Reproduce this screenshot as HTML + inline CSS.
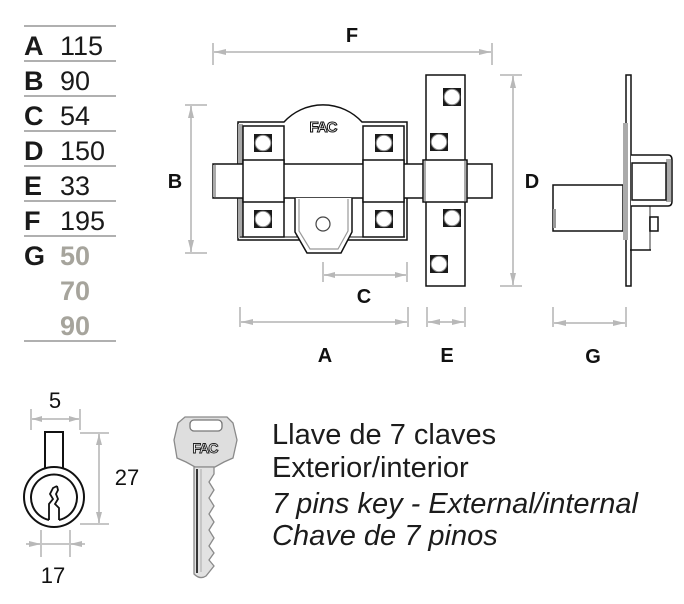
<!DOCTYPE html>
<html><head><meta charset="utf-8"><style>
html,body{margin:0;padding:0;background:#fff;}
svg{display:block;}
</style></head><body>
<svg width="684" height="604" viewBox="0 0 684 604" xmlns="http://www.w3.org/2000/svg">
<rect width="684" height="604" fill="#fff"/>
<!-- table -->
<g stroke="#808080" stroke-width="1.3">
<line x1="24" y1="26" x2="116" y2="26"/><line x1="24" y1="61" x2="116" y2="61"/>
<line x1="24" y1="96" x2="116" y2="96"/><line x1="24" y1="131" x2="116" y2="131"/>
<line x1="24" y1="166" x2="116" y2="166"/><line x1="24" y1="201" x2="116" y2="201"/>
<line x1="24" y1="236" x2="116" y2="236"/><line x1="24" y1="341" x2="116" y2="341"/>
</g>
<g font-family="Liberation Sans, Arial, sans-serif" font-size="27" fill="#1a1a1a">
<text x="24" y="55" font-weight="bold">A</text><text x="60" y="55">115</text>
<text x="24" y="90" font-weight="bold">B</text><text x="60" y="90">90</text>
<text x="24" y="125" font-weight="bold">C</text><text x="60" y="125">54</text>
<text x="24" y="160" font-weight="bold">D</text><text x="60" y="160">150</text>
<text x="24" y="195" font-weight="bold">E</text><text x="60" y="195">33</text>
<text x="24" y="230" font-weight="bold">F</text><text x="60" y="230">195</text>
<text x="24" y="265" font-weight="bold">G</text>
<text x="60" y="265" font-weight="bold" fill="#a6a49c">50</text>
<text x="60" y="300" font-weight="bold" fill="#a6a49c">70</text>
<text x="60" y="335" font-weight="bold" fill="#a6a49c">90</text>
</g>

<!-- dimension lines -->
<g stroke="#c6c6c6" stroke-width="2" fill="none">
<line x1="213" y1="52" x2="492" y2="52"/><line x1="213" y1="43" x2="213" y2="65"/><line x1="492" y1="43" x2="492" y2="65"/>
<line x1="191" y1="105" x2="191" y2="253"/><line x1="185" y1="105" x2="207" y2="105"/><line x1="185" y1="253" x2="207" y2="253"/>
<line x1="513" y1="75" x2="513" y2="286"/><line x1="500" y1="75" x2="522" y2="75"/><line x1="500" y1="286" x2="522" y2="286"/>
<line x1="323" y1="275" x2="407" y2="275"/><line x1="323" y1="262" x2="323" y2="282"/><line x1="407" y1="262" x2="407" y2="282"/>
<line x1="240" y1="322" x2="408" y2="322"/><line x1="240" y1="307" x2="240" y2="327"/><line x1="408" y1="307" x2="408" y2="327"/>
<line x1="427" y1="322" x2="465" y2="322"/><line x1="427" y1="307" x2="427" y2="327"/><line x1="465" y1="307" x2="465" y2="327"/>
<line x1="553" y1="323" x2="626" y2="323"/><line x1="553" y1="307" x2="553" y2="327"/><line x1="626" y1="307" x2="626" y2="327"/>
<line x1="31" y1="419" x2="80" y2="419"/><line x1="31" y1="409" x2="31" y2="430"/><line x1="80" y1="409" x2="80" y2="430"/>
<line x1="99" y1="433" x2="99" y2="524"/><line x1="80" y1="433" x2="109" y2="433"/><line x1="80" y1="524" x2="109" y2="524"/>
<line x1="26" y1="544" x2="85" y2="544"/><line x1="41" y1="530" x2="41" y2="557"/><line x1="70" y1="530" x2="70" y2="557"/>
</g>
<g fill="#b8b8b8">
<polygon points="214,52 226,49 226,55"/><polygon points="491,52 479,49 479,55"/>
<polygon points="191,106 188,118 194,118"/><polygon points="191,252 188,240 194,240"/>
<polygon points="513,76 510,88 516,88"/><polygon points="513,285 510,273 516,273"/>
<polygon points="324,275 335,272 335,278"/><polygon points="406,275 395,272 395,278"/>
<polygon points="241,322 253,319 253,325"/><polygon points="407,322 395,319 395,325"/>
<polygon points="428,322 440,319 440,325"/><polygon points="464,322 452,319 452,325"/>
<polygon points="554,323 566,320 566,326"/><polygon points="625,323 613,320 613,326"/>
<polygon points="32,419 42,416 42,422"/><polygon points="79,419 69,416 69,422"/>
<polygon points="99,434 96,445 102,445"/><polygon points="99,523 96,512 102,512"/>
<polygon points="41,544 29,541 29,547"/><polygon points="70,544 82,541 82,547"/>
</g>

<!-- dim labels -->
<g font-family="Liberation Sans, Arial, sans-serif" font-size="20" font-weight="bold" fill="#111" text-anchor="middle">
<text x="352" y="42">F</text>
<text x="175" y="188">B</text>
<text x="532" y="188">D</text>
<text x="364" y="303">C</text>
<text x="325" y="362">A</text>
<text x="447" y="362">E</text>
<text x="593" y="363">G</text>
</g>
<g font-family="Liberation Sans, Arial, sans-serif" font-size="22" fill="#111" text-anchor="middle">
<text x="55" y="408">5</text>
<text x="127" y="485">27</text>
<text x="53" y="583">17</text>
</g>

<!-- lock body -->
<g stroke="#111" stroke-width="1.5">
<rect x="237" y="123" width="6" height="115" fill="#a8a8a8" stroke="none"/>
<path d="M238,240 L238,122 L284,122 A53,53 0 0 1 362,122 L407,122 L407,240 Z" fill="#fff"/>
<rect x="238" y="124" width="5" height="114" fill="#a8a8a8" stroke="none"/>
<line x1="240" y1="237" x2="405" y2="237" stroke-width="1"/>
<rect x="243" y="126" width="41" height="111" fill="#fff"/>
<rect x="363" y="126" width="41" height="111" fill="#fff"/>
<!-- strike plate -->
<rect x="426" y="75" width="39" height="211" fill="#fff"/>
<!-- bolt -->
<rect x="213" y="164" width="279" height="34" fill="#fff"/>
<rect x="213" y="165" width="3" height="32" fill="#aaa" stroke="none"/>
<rect x="243" y="160" width="41" height="42" fill="#fff"/>
<rect x="363" y="160" width="41" height="42" fill="#fff"/>
<rect x="423" y="160" width="44" height="42" fill="#fff"/>
<line x1="425" y1="161" x2="425" y2="201" stroke="#aaa" stroke-width="2"/>
<line x1="465" y1="161" x2="465" y2="201" stroke="#aaa" stroke-width="2"/>
<!-- lower tab -->
<path d="M295,198 L295,232 L307,253 L341,253 L352,232 L352,198" fill="#fff"/>
<path d="M299,199 L299,231 L310,249 L338,249 L348,231 L348,199" fill="none" stroke="#999" stroke-width="1.2"/>
<circle cx="323" cy="224" r="7" fill="#fff" stroke="#444" stroke-width="1.2"/>
</g>
<text x="323" y="132" font-family="Liberation Sans, Arial, sans-serif" font-size="15" font-weight="bold" fill="#fff" stroke="#111" stroke-width="1" text-anchor="middle" letter-spacing="-1">FAC</text>
<!-- screws -->
<g>
<g transform="translate(254,134)"><rect width="18" height="18" fill="#1a1a1a"/><circle cx="9" cy="9" r="7.8" fill="#fff" stroke="#888"/></g>
<g transform="translate(254,210)"><rect width="18" height="18" fill="#1a1a1a"/><circle cx="9" cy="9" r="7.8" fill="#fff" stroke="#888"/></g>
<g transform="translate(375,134)"><rect width="18" height="18" fill="#1a1a1a"/><circle cx="9" cy="9" r="7.8" fill="#fff" stroke="#888"/></g>
<g transform="translate(375,210)"><rect width="18" height="18" fill="#1a1a1a"/><circle cx="9" cy="9" r="7.8" fill="#fff" stroke="#888"/></g>
<g transform="translate(443,88)"><rect width="18" height="18" fill="#1a1a1a"/><circle cx="9" cy="9" r="7.8" fill="#fff" stroke="#888"/></g>
<g transform="translate(430,133)"><rect width="18" height="18" fill="#1a1a1a"/><circle cx="9" cy="9" r="7.8" fill="#fff" stroke="#888"/></g>
<g transform="translate(443,209)"><rect width="18" height="18" fill="#1a1a1a"/><circle cx="9" cy="9" r="7.8" fill="#fff" stroke="#888"/></g>
<g transform="translate(430,255)"><rect width="18" height="18" fill="#1a1a1a"/><circle cx="9" cy="9" r="7.8" fill="#fff" stroke="#888"/></g>
</g>

<!-- side view -->
<g stroke="#111" stroke-width="1.5" fill="#fff">
<rect x="553" y="185" width="70" height="46"/>
<rect x="553" y="209" width="3" height="19" fill="#999" stroke="none"/>
<rect x="626" y="75" width="5" height="211"/>
<rect x="623" y="123" width="5" height="117" fill="#aaa" stroke="none"/>
<line x1="650" y1="206" x2="650" y2="250" stroke="#999" stroke-width="2"/>
<line x1="630" y1="250" x2="651" y2="250"/>
<rect x="650" y="217" width="8" height="14"/>
<path d="M631,155 L668,155 Q672,155 672,160 L672,201 Q672,206 668,206 L631,206" />
<rect x="666" y="159" width="5" height="43" fill="#aaa" stroke="none"/>
<rect x="632" y="163" width="34" height="37"/>
</g>

<!-- cylinder -->
<g stroke="#111" stroke-width="2" fill="#fff">
<rect x="45" y="432" width="18" height="37"/>
<circle cx="54" cy="497" r="30"/>
<path d="M49,520 A23,23 0 1 1 59,520" fill="none"/>
<path d="M49,520 L49,504 L53,499 L50,494 L53,488 L57,486 M59,520 L59,508 L55,504 L58,499 L56,494 L58,490 L57,486" fill="none" stroke-width="1.8"/>
</g>

<!-- key -->
<g>
<path d="M178,423 L185,417 L227,417 L233,423 L237,440 L233,458 L224,462 L215,467 L195,467 L186,462 L177,458 L174,440 Z" fill="#dedede" stroke="#8a8a8a" stroke-width="1.3"/>
<rect x="190" y="420" width="32" height="11" rx="4" fill="#fff" stroke="#777" stroke-width="1.3"/>
<text x="205" y="453" font-family="Liberation Sans, Arial, sans-serif" font-size="14" font-weight="bold" fill="#eee" stroke="#222" stroke-width="0.9" text-anchor="middle" letter-spacing="-1">FAC</text>
<path d="M194,467 L194,574 Q200,580 206,576 L214,566 L209,560 L214,553 L209,546 L214,538 L209,530 L214,522 L209,514 L214,506 L209,498 L214,490 L209,482 L214,474 L214,467 Z" fill="#e2e2e2" stroke="#8a8a8a" stroke-width="1.3"/>
<line x1="197" y1="469" x2="197" y2="573" stroke="#222" stroke-width="1.8"/>
<line x1="201" y1="469" x2="201" y2="572" stroke="#aaa" stroke-width="1"/>
</g>

<!-- description text -->
<g font-family="Liberation Sans, Arial, sans-serif" font-size="29" fill="#1c1c1c">
<text x="272" y="444">Llave de 7 claves</text>
<text x="272" y="477">Exterior/interior</text>
<text x="272" y="513" font-style="italic">7 pins key - External/internal</text>
<text x="272" y="545" font-style="italic">Chave de 7 pinos</text>
</g>
</svg>
</body></html>
